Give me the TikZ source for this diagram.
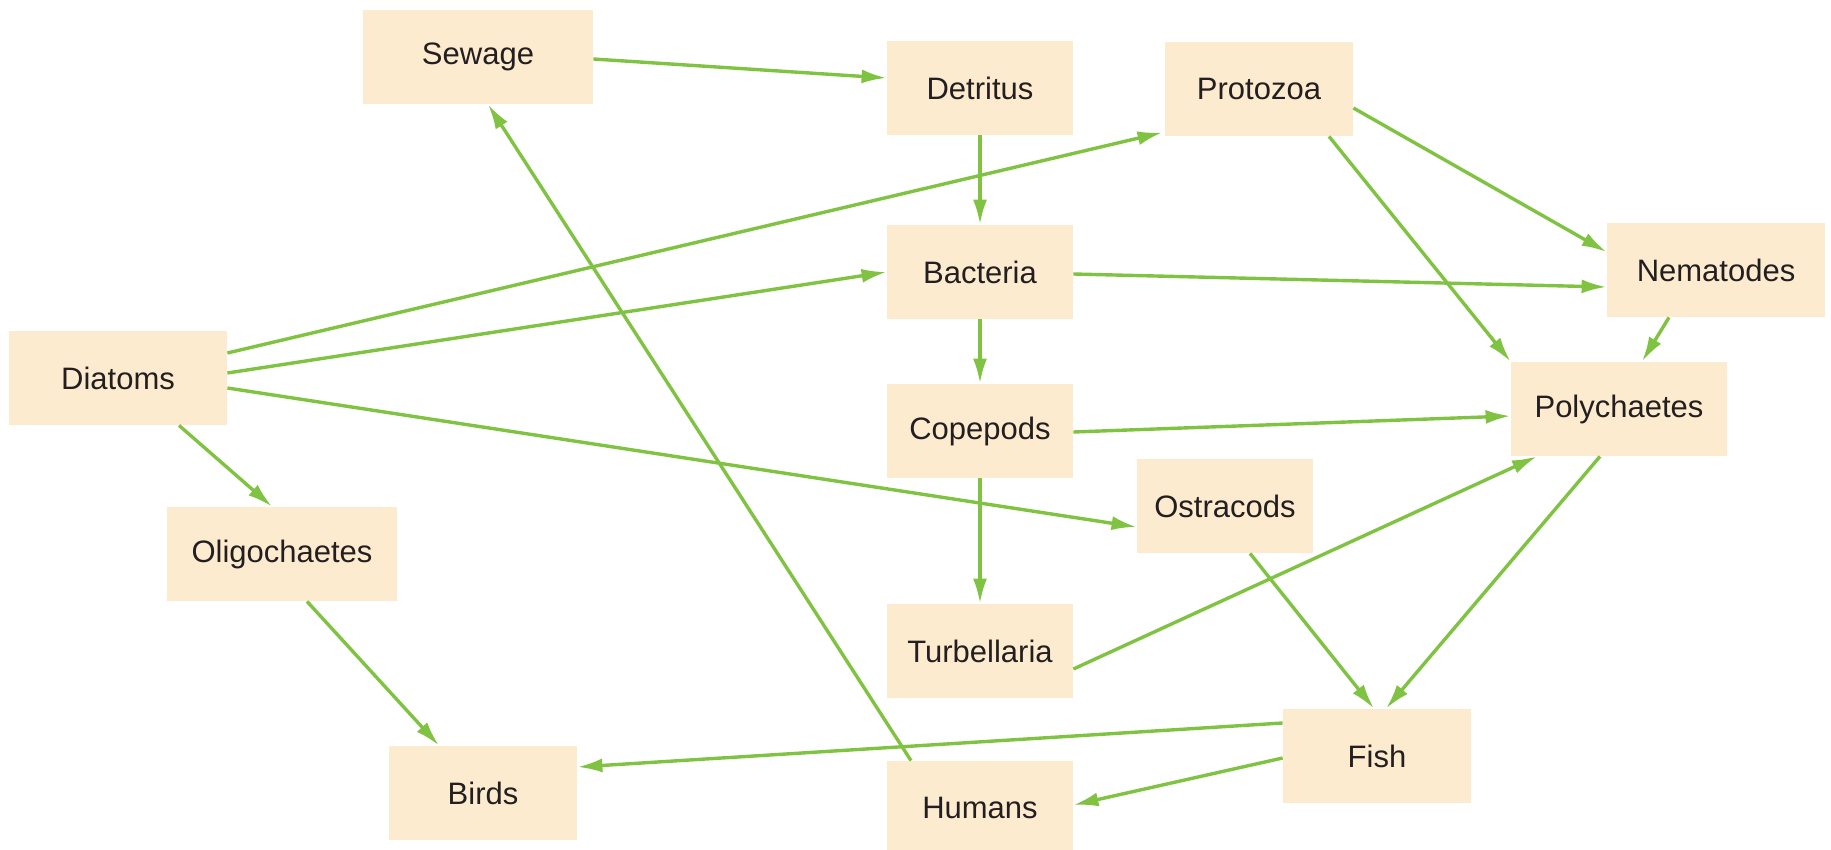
\documentclass[tikz,border=0pt]{standalone}
\usepackage{fontspec}
\setmainfont{Liberation Sans}
\usetikzlibrary{arrows.meta,calc}
\definecolor{boxfill}{HTML}{FDEBCF}
\definecolor{edgegreen}{HTML}{80C342}
\definecolor{txt}{HTML}{231F20}
\tikzset{
  box/.style={rectangle, fill=boxfill, draw=none, inner sep=0pt, minimum height=47pt,
    text=txt, font=\fontsize{15.5pt}{18pt}\selectfont},
  link/.style={draw=edgegreen, line width=1.7pt, -{Latex[length=12.5pt,width=7pt]}}
}
\begin{document}
\begin{tikzpicture}[x=0.5pt,y=-0.5pt]
\useasboundingbox (0,0) rectangle (1831,850);
\node[box, minimum width=115pt] (sew) at (478,57) {Sewage};
\node[box, minimum width=93pt] (det) at (980,88) {Detritus};
\node[box, minimum width=94pt] (pro) at (1259,89) {Protozoa};
\node[box, minimum width=93pt] (bac) at (980,272) {Bacteria};
\node[box, minimum width=109pt] (nem) at (1716,270) {Nematodes};
\node[box, minimum width=109pt] (dia) at (118,378) {Diatoms};
\node[box, minimum width=108pt] (pol) at (1619,409) {Polychaetes};
\node[box, minimum width=93pt] (cop) at (980,431) {Copepods};
\node[box, minimum width=88pt] (ost) at (1225,506) {Ostracods};
\node[box, minimum width=115pt] (oli) at (282,554) {Oligochaetes};
\node[box, minimum width=93pt] (tur) at (980,651) {Turbellaria};
\node[box, minimum width=94pt] (fis) at (1377,756) {Fish};
\node[box, minimum width=94pt] (bir) at (483,793) {Birds};
\node[box, minimum width=93pt] (hum) at (980,808) {Humans};

\draw[link] ($(sew.east)+(0,2)$) -- ($(det.west)+(0,-10)$);
\draw[link] (det.south) -- (bac.north);
\draw[link] (bac.south) -- (cop.north);
\draw[link] (cop.south) -- (tur.north);
\draw[link] ($(dia.east)+(0,-25)$) -- ($(pro.south west)+(-2,-4)$);
\draw[link] ($(dia.east)+(0,-5)$) -- (bac.west);
\draw[link] ($(dia.east)+(0,10)$) -- ($(ost.west)+(0,21)$);
\draw[link] ($(dia.south)+(61,0)$) -- ($(oli.north)+(-10,0)$);
\draw[link] ($(oli.south)+(25,0)$) -- ($(bir.north)+(-44,0)$);
\draw[link] ($(pro.east)+(0,19)$) -- ($(nem.west)+(0,-18)$);
\draw[link] ($(pro.south)+(70,0)$) -- (pol.north west);
\draw[link] ($(bac.east)+(0,2)$) -- ($(nem.west)+(0,17)$);
\draw[link] ($(nem.south)+(-47,0)$) -- ($(pol.north)+(23,0)$);
\draw[link] ($(cop.east)+(0,1)$) -- ($(pol.west)+(0,7)$);
\draw[link] ($(tur.east)+(0,18)$) -- ($(pol.south)+(-82,0)$);
\draw[link] ($(ost.south)+(25,0)$) -- ($(fis.north)+(-3,0)$);
\draw[link] ($(pol.south)+(-19,0)$) -- ($(fis.north)+(9,0)$);
\draw[link] ($(fis.west)+(0,-33)$) -- ($(bir.east)+(0,-26)$);
\draw[link] ($(fis.west)+(0,2)$) -- ($(hum.east)+(0,-3)$);
\draw[link] ($(hum.north)+(-69,0)$) -- ($(sew.south)+(10,0)$);
\end{tikzpicture}
\end{document}
